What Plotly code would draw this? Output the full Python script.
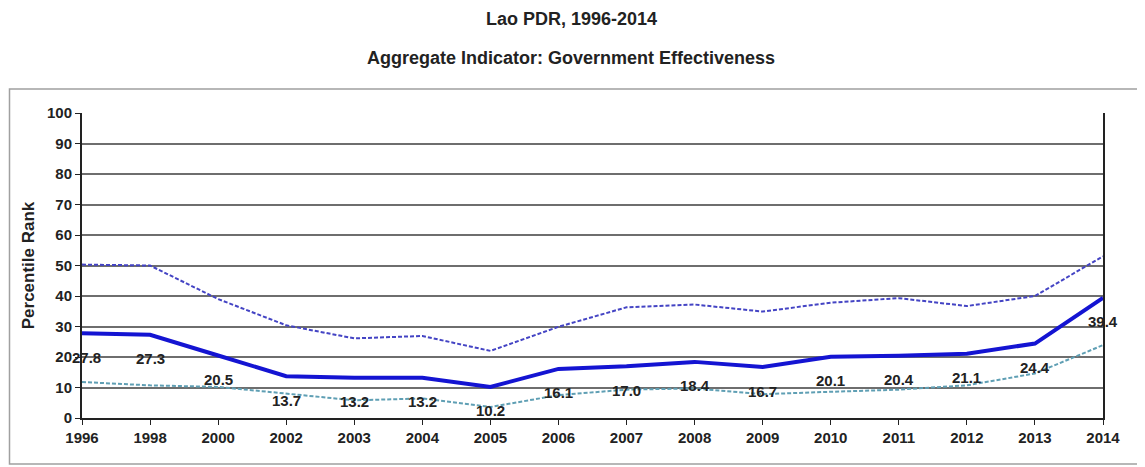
import plotly.graph_objects as go

years = ["1996", "1998", "2000", "2002", "2003", "2004", "2005", "2006",
         "2007", "2008", "2009", "2010", "2011", "2012", "2013", "2014"]
rank = [27.8, 27.3, 20.5, 13.7, 13.2, 13.2, 10.2, 16.1,
        17.0, 18.4, 16.7, 20.1, 20.4, 21.1, 24.4, 39.4]
upper = [50.3, 50.0, 39.0, 30.4, 26.1, 26.9, 22.0, 29.9,
         36.3, 37.2, 34.9, 37.8, 39.3, 36.7, 40.0, 53.0]
lower = [11.8, 10.7, 10.2, 8.0, 5.8, 6.4, 3.6, 7.5,
         9.3, 9.7, 7.8, 8.6, 9.3, 10.7, 14.6, 23.9]

title_main = "Lao PDR, 1996-2014"
title_sub = "Aggregate Indicator: Government Effectiveness"
y_title = "Percentile Rank"

FONT = "Liberation Sans, Arial, sans-serif"
OFF = 8  # page body margin
W, H = 1145 - OFF, 467 - OFF
ML, MR, MT, MB = 82 - OFF, 42, 113 - OFF, 49
PW, PH = W - ML - MR, H - MT - MB


def px_x(x):
    return (x - OFF - ML) / PW


def px_y(y):
    return (H - MB - (y - OFF)) / PH


fig = go.Figure()
fig.add_trace(go.Scatter(x=years, y=upper, mode="lines",
                         line=dict(color="#4444c4", width=2, dash="4px,2px"),
                         hoverinfo="skip", showlegend=False))
fig.add_trace(go.Scatter(x=years, y=lower, mode="lines",
                         line=dict(color="#5f9fb4", width=2, dash="4px,2px"),
                         hoverinfo="skip", showlegend=False))
fig.add_trace(go.Scatter(x=years, y=rank, mode="lines",
                         line=dict(color="#1414d2", width=4),
                         showlegend=False))

for i, v in enumerate(rank):
    fig.add_annotation(x=i, y=v, text=f"{v:.1f}", showarrow=False,
                       yshift=-24, xshift=4 if i == 0 else 0,
                       font=dict(family=FONT, size=15, color="#222222", weight="bold"))

fig.add_annotation(xref="paper", yref="paper", x=px_x(571), y=px_y(19),
                   text=title_main, showarrow=False, xanchor="center", yanchor="middle",
                   font=dict(family=FONT, size=18, color="#222222", weight="bold"))
fig.add_annotation(xref="paper", yref="paper", x=px_x(571), y=px_y(58),
                   text=title_sub, showarrow=False, xanchor="center", yanchor="middle",
                   font=dict(family=FONT, size=18, color="#222222", weight="bold"))

fig.add_shape(type="rect", xref="paper", yref="paper",
              x0=px_x(9.5), x1=px_x(1160), y0=px_y(464), y1=px_y(89),
              line=dict(color="#a0a0a0", width=1.5), fillcolor="rgba(0,0,0,0)", layer="below")

fig.update_layout(
    width=W, height=H,
    margin=dict(l=ML, r=MR, t=MT, b=MB),
    paper_bgcolor="white", plot_bgcolor="white",
    xaxis=dict(type="category", range=[0, len(years) - 1], showgrid=False,
               showline=True, linecolor="#222222", linewidth=2,
               ticks="outside", ticklen=5, tickcolor="#222222",
               tickfont=dict(family=FONT, size=15, color="#222222", weight="bold"),
               zeroline=False, fixedrange=True),
    yaxis=dict(range=[0, 100], dtick=10, showgrid=True, gridcolor="#6e6e6e", gridwidth=1.5,
               showline=True, linecolor="#222222", linewidth=2, mirror=True,
               ticks="outside", ticklen=5, tickcolor="#222222",
               tickfont=dict(family=FONT, size=15, color="#222222", weight="bold"),
               title=dict(text=y_title, standoff=8,
                          font=dict(family=FONT, size=17, color="#222222", weight="bold")),
               zeroline=False, fixedrange=True),
)

fig.write_html("out.html")
